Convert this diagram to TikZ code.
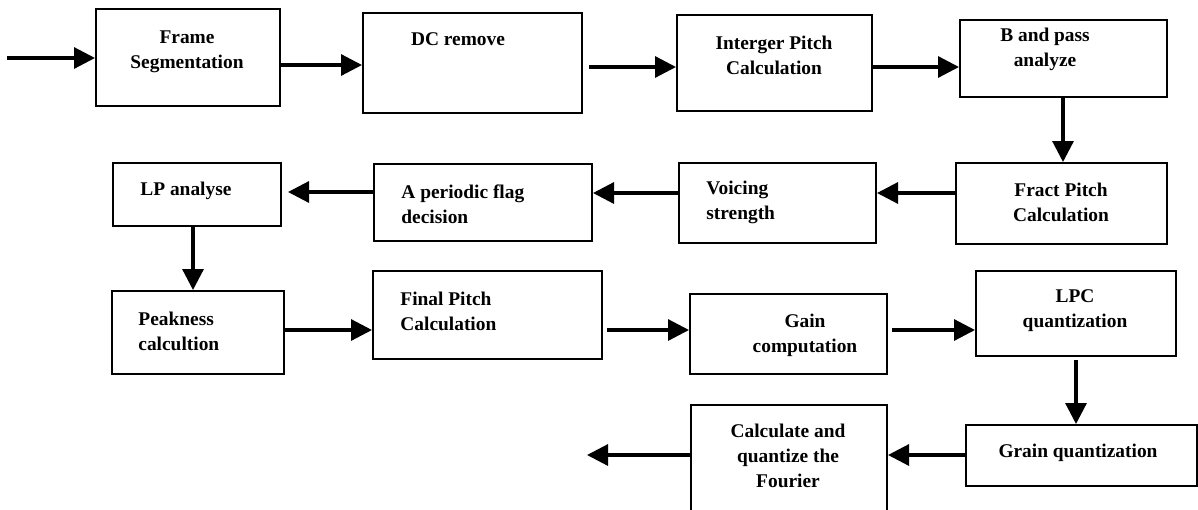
\documentclass[tikz,border=0pt]{standalone}
\usepackage{fontspec}
\setmainfont{Liberation Serif}
\usetikzlibrary{arrows.meta}

\tikzset{
  block/.style={draw, line width=1pt, inner sep=0pt},
  flow/.style={line width=1.6pt, -{Triangle[length=10.5pt,width=10.5pt]}},
  txt/.style={font=\bfseries\fontsize{9.7}{12.5}\selectfont, inner sep=0pt}
}

\begin{document}
\begin{tikzpicture}[x=0.5pt,y=-0.5pt]
\useasboundingbox (0,0) rectangle (1198,509);

% Row 1
\node [block, minimum width=92pt, minimum height=48.5pt] (FS) at (188,57.5){};
\node [txt, align=center] (FSt) at (187,52) {Frame\\Segmentation};

\node [block, minimum width=109.5pt, minimum height=50pt] (DC) at (472.5,63){};
\node [txt] (DCt) at (458,39) {DC remove};

\node [block, minimum width=97.5pt, minimum height=48pt] (IP) at (774.5,63){};
\node [txt, align=center] (IPt) at (774,55) {Interger Pitch\\Calculation};

\node [block, minimum width=103.5pt, minimum height=38.5pt] (BP) at (1063.5,58.5){};
\node [txt, align=center] (BPt) at (1045,49.5) {B and pass\\analyze};

% Row 2
\node [block, minimum width=105.5pt, minimum height=40.5pt] (FP) at (1061.5,203.5){};
\node [txt, align=center] (FPt) at (1061,202) {Fract Pitch\\Calculation};

\node [block, minimum width=98.5pt, minimum height=40pt] (VS) at (777.5,203){};
\node [txt, align=left, anchor=west] (VSt) at (706,202) {Voicing\\strength};

\node [block, minimum width=109pt, minimum height=38.5pt] (AP) at (483,202.5){};
\node [txt, align=left, anchor=west] (APt) at (401,204) {A periodic flag\\decision};

\node [block, minimum width=84pt, minimum height=31.5pt] (LP) at (197,194.5){};
\node [txt, anchor=west] (LPt) at (140,191) {LP analyse};

% Row 3
\node [block, minimum width=86pt, minimum height=41.5pt] (PK) at (198,332.5){};
\node [txt, align=left, anchor=west] (PKt) at (138,331.5) {Peakness\\calcultion};

\node [block, minimum width=114.5pt, minimum height=44pt] (FN) at (487.5,315){};
\node [txt, align=left, anchor=west] (FNt) at (400,311) {Final Pitch\\Calculation};

\node [block, minimum width=98.5pt, minimum height=40pt] (GC) at (788.5,334){};
\node [txt, align=center] (GCt) at (805,335) {Gain\\computation};

\node [block, minimum width=100pt, minimum height=42.5pt] (LQ) at (1076,313.5){};
\node [txt, align=center] (LQt) at (1075,311) {LPC\\quantization};

% Row 4
\node [block, minimum width=115.5pt, minimum height=30.5pt] (GQ) at (1081.5,455.5){};
\node [txt] (GQt) at (1078,453) {Grain quantization};

\node [block, minimum width=98pt, minimum height=57.5pt] (CQ) at (789,462.5){};
\node [txt, align=center] (CQt) at (788,456) {Calculate and\\quantize the\\Fourier};

% Connectors
\coordinate (in) at (7,58);
\coordinate (out) at (587,455);
\draw [flow] (in) -- (in -| FS.west);
\draw [flow] (FS.east |- 0,65) -- (DC.west |- 0,65);
\draw [flow, shorten <=3pt] (DC.east |- 0,67) -- (IP.west |- 0,67);
\draw [flow] (IP.east |- 0,67) -- (BP.west |- 0,67);
\draw [flow] (BP.south -| 1063,0) -- (FP.north -| 1063,0);
\draw [flow] (FP.west |- 0,193) -- (VS.east |- 0,193);
\draw [flow] (VS.west |- 0,193) -- (AP.east |- 0,193);
\draw [flow, shorten >=3pt] (AP.west |- 0,192) -- (LP.east |- 0,192);
\draw [flow] (LP.south -| 193,0) -- (PK.north -| 193,0);
\draw [flow] (PK.east |- 0,330) -- (FN.west |- 0,330);
\draw [flow, shorten <=2pt] (FN.east |- 0,330) -- (GC.west |- 0,330);
\draw [flow, shorten <=2pt] (GC.east |- 0,330) -- (LQ.west |- 0,330);
\draw [flow, shorten <=1.5pt] (LQ.south -| 1076,0) -- (GQ.north -| 1076,0);
\draw [flow] (GQ.west |- 0,455) -- (CQ.east |- 0,455);
\draw [flow] (CQ.west |- out) -- (out);

\end{tikzpicture}
\end{document}
